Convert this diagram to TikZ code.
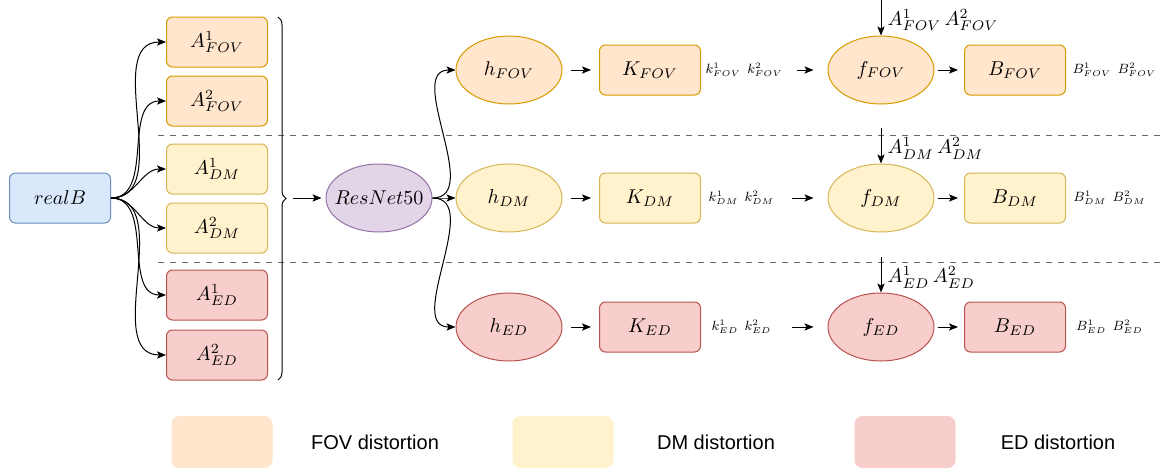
\documentclass[tikz,border=0pt]{standalone}
\usepackage{fontspec}
\newfontfamily\legendfont{Liberation Sans}
\usetikzlibrary{arrows.meta, shapes.geometric, decorations.pathreplacing, positioning}

\definecolor{fovfill}{HTML}{FFE6CC}
\definecolor{fovline}{HTML}{D79B00}
\definecolor{dmfill}{HTML}{FFF2CC}
\definecolor{dmline}{HTML}{D6B656}
\definecolor{edfill}{HTML}{F8CECC}
\definecolor{edline}{HTML}{B85450}
\definecolor{blfill}{HTML}{DAE8FC}
\definecolor{blline}{HTML}{6C8EBF}
\definecolor{pufill}{HTML}{E1D5E7}
\definecolor{puline}{HTML}{9673A6}

\newcommand{\pairlab}[2]{\scalebox{0.84}{$#1^{\scriptscriptstyle 1}_{\scriptscriptstyle #2}\;\,#1^{\scriptscriptstyle 2}_{\scriptscriptstyle #2}$}}

\begin{document}
\begin{tikzpicture}
[x=0.5pt, y=-0.5pt, >={Stealth[length=4.5pt, width=3.6pt, inset=1pt]}, line width=0.5pt,
 box/.style={rectangle, rounded corners=3pt, draw, minimum width=50.5pt, minimum height=25pt},
 oval/.style={ellipse, draw, inner sep=0pt, minimum width=53pt, minimum height=34pt},
 FOV/.style={fill=fovfill, draw=fovline},
 DM/.style={fill=dmfill, draw=dmline},
 ED/.style={fill=edfill, draw=edline}]
\useasboundingbox (0,0) rectangle (1162,471);

\draw [dashed, gray!80!black] (158,135) -- (1162,135);
\draw [dashed, gray!80!black] (158,262) -- (1162,262);

\node [box, fill=blfill, draw=blline] (realB) at (60,198) {$realB$};
\foreach \n/\i/\y in {FOV/1/42, FOV/2/101, DM/1/169, DM/2/228, ED/1/295, ED/2/355}{
	\node [box, \n] (A\i \n) at (217,\y) {$A^\i_{\n}$};
	\draw [->] (realB.east) to [out=0, in=180] (A\i \n.west);
}

\draw [decorate, decoration={brace, amplitude=4pt}] (278,17) -- (278,380);
\coordinate (brace tip) at (293,198);
\node [oval, fill=pufill, draw=puline] (resnet) at (379,198) {\makebox[0pt]{$ResNet50$}};
\draw [->, shorten >=2pt] (brace tip) -- (resnet);

\foreach \n/\y in {FOV/70, DM/198, ED/327}{
	\node [oval, \n] (h \n) at (509,\y) {$h_{\n}$};
	\draw [->] (resnet.east) to [out=0, in=180] (h \n.west);
	\node [box, \n] (K \n) at (650,\y) {$K_{\n}$};
	\draw [->, shorten <=4pt, shorten >=4pt] (h \n) -- (K \n);
	\node [font=\footnotesize, inner sep=1pt, minimum width=38pt, right=1pt of K \n] (k \n) {\pairlab{k}{\n}};
	\node [oval, \n] (f \n) at (881,\y) {$f_{\n}$};
	\draw [->, shorten <=6pt, shorten >=7pt] (k \n) -- (f \n);
	\node [box, \n] (B \n) at (1015,\y) {$B_{\n}$};
	\draw [->, shorten <=1.5pt, shorten >=3pt] (f \n) -- (B \n);
	\node [font=\footnotesize, inner sep=1pt, minimum width=39pt, right=2pt of B \n] (b \n) {\pairlab{B}{\n}};
	\coordinate [above=18pt of f \n] (in \n);
	\draw [->] (in \n) -- (f \n);
	\node [anchor=south west, inner sep=1pt] (a \n) at ([xshift=2pt, yshift=1pt]f \n.north) {$A^1_{\n}\,A^2_{\n}$};
}

\foreach \n/\x in {FOV/222, DM/563, ED/905}{
	\node [box, \n, draw=none, rounded corners=4pt, minimum height=26pt] (key \n) at (\x,442) {};
	\node [font=\legendfont] (key text \n) at (\x+153,442) {\n{} distortion};
}
\end{tikzpicture}
\end{document}
